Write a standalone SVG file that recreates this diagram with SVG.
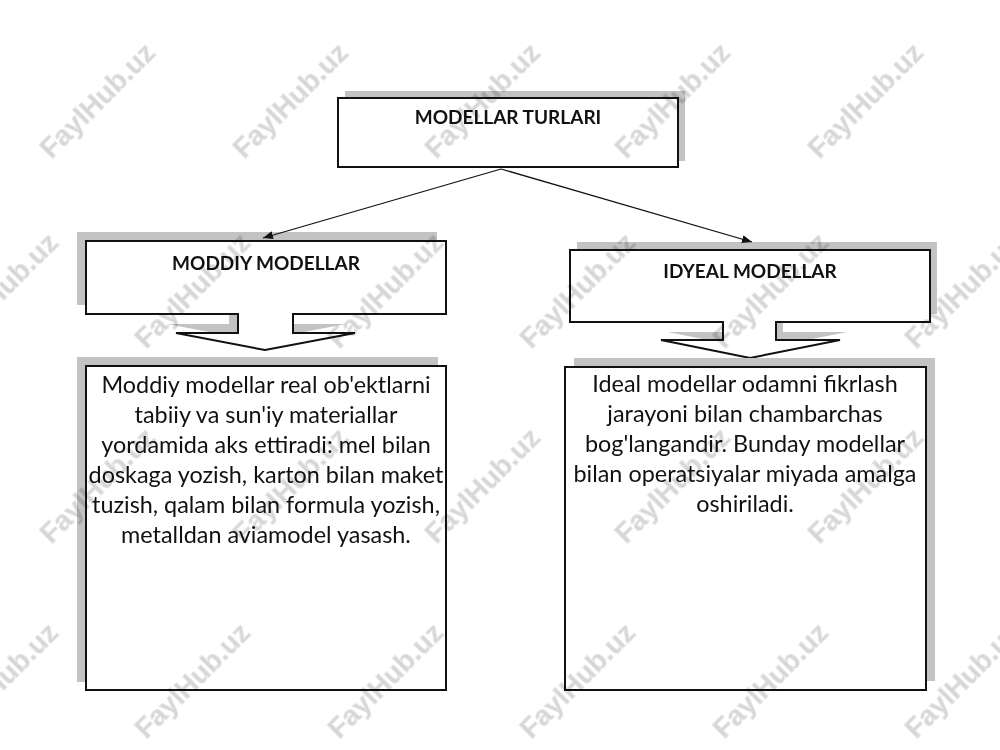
<svg xmlns="http://www.w3.org/2000/svg" width="1000" height="750" viewBox="0 0 1000 750">
<defs>
<style>
.shadow{fill:#c3c3c3;stroke:none}
.box{fill:#fff;stroke:#111;stroke-width:2}
.head{font-family:Lato,"Liberation Sans",sans-serif;font-weight:bold;font-size:19px;fill:#111;text-anchor:middle}
.body{font-family:Lato,"Liberation Sans",sans-serif;font-size:23.4px;fill:#111;text-anchor:middle}
.conn{stroke:#111;stroke-width:1.3;fill:none}
.wm{font-family:"Liberation Sans",Arial,sans-serif;font-weight:bold;font-size:28px;fill:#d6d6d6;stroke:#e8e8e8;stroke-width:1;text-anchor:middle;mix-blend-mode:multiply}
</style>
<marker id="ah" viewBox="0 0 10 8" refX="10" refY="4" markerWidth="10" markerHeight="8" markerUnits="userSpaceOnUse" orient="auto">
<path d="M0,0 L10,4 L0,8 Z" fill="#111"/>
</marker>
</defs>
<rect width="1000" height="750" fill="#fff"/>

<g id="node-top">
<rect class="shadow" x="345" y="91" width="340" height="70"/>
<rect class="box" x="338" y="98" width="340" height="69"/>
<text class="head" x="508" y="124">MODELLAR TURLARI</text>
</g>

<g id="node-moddiy">
<path class="shadow" d="M77,232 H437 V305 H284 V324 H346 L256,341 L167,324 H229 V305 H77 Z"/>
<path class="box" d="M86,241 H446 V314 H293 V333 H355 L265,350 L176,333 H238 V314 H86 Z"/>
<text class="head" x="266" y="270">MODDIY MODELLAR</text>
</g>

<g id="node-ideal">
<path class="shadow" d="M577,242 H937 V314 H783 V332 H847 L757,350 L668,332 H730 V314 H577 Z"/>
<path class="box" d="M570,250 H930 V322 H776 V340 H840 L750,358 L661,340 H723 V322 H570 Z"/>
<text class="head" x="750" y="278">IDYEAL MODELLAR</text>
</g>

<g id="node-moddiy-text">
<rect class="shadow" x="77" y="357" width="361" height="325"/>
<rect class="box" x="86" y="366" width="360" height="324"/>
<text class="body" x="266" y="393">Moddiy modellar real ob'ektlarni</text>
<text class="body" x="266" y="423">tabiiy va sun'iy materiallar</text>
<text class="body" x="266" y="453">yordamida aks ettiradi: mel bilan</text>
<text class="body" x="266" y="483">doskaga yozish, karton bilan maket</text>
<text class="body" x="266" y="513">tuzish, qalam bilan formula yozish,</text>
<text class="body" x="266" y="543">metalldan aviamodel yasash.</text>
</g>

<g id="node-ideal-text">
<rect class="shadow" x="574" y="358" width="361" height="323"/>
<rect class="box" x="565" y="367" width="361" height="323"/>
<text class="body" x="745" y="392">Ideal modellar odamni fikrlash</text>
<text class="body" x="745" y="422">jarayoni bilan chambarchas</text>
<text class="body" x="745" y="452">bog'langandir. Bunday modellar</text>
<text class="body" x="745" y="482">bilan operatsiyalar miyada amalga</text>
<text class="body" x="745" y="512">oshiriladi.</text>
</g>

<g id="connectors">
<line class="conn" x1="501" y1="169" x2="263" y2="238" marker-end="url(#ah)"/>
<line class="conn" x1="501" y1="169" x2="752" y2="242" marker-end="url(#ah)"/>
</g>

<g id="watermarks">
<text class="wm" transform="translate(97,100) rotate(-45)" y="10">FaylHub.uz</text>
<text class="wm" transform="translate(290,100) rotate(-45)" y="10">FaylHub.uz</text>
<text class="wm" transform="translate(482,100) rotate(-45)" y="10">FaylHub.uz</text>
<text class="wm" transform="translate(672,100) rotate(-45)" y="10">FaylHub.uz</text>
<text class="wm" transform="translate(865,100) rotate(-45)" y="10">FaylHub.uz</text>
<text class="wm" transform="translate(0,290) rotate(-45)" y="10">FaylHub.uz</text>
<text class="wm" transform="translate(192,290) rotate(-45)" y="10">FaylHub.uz</text>
<text class="wm" transform="translate(385,290) rotate(-45)" y="10">FaylHub.uz</text>
<text class="wm" transform="translate(577,290) rotate(-45)" y="10">FaylHub.uz</text>
<text class="wm" transform="translate(770,290) rotate(-45)" y="10">FaylHub.uz</text>
<text class="wm" transform="translate(962,290) rotate(-45)" y="10">FaylHub.uz</text>
<text class="wm" transform="translate(97,485) rotate(-45)" y="10">FaylHub.uz</text>
<text class="wm" transform="translate(290,485) rotate(-45)" y="10">FaylHub.uz</text>
<text class="wm" transform="translate(482,485) rotate(-45)" y="10">FaylHub.uz</text>
<text class="wm" transform="translate(672,485) rotate(-45)" y="10">FaylHub.uz</text>
<text class="wm" transform="translate(865,485) rotate(-45)" y="10">FaylHub.uz</text>
<text class="wm" transform="translate(0,680) rotate(-45)" y="10">FaylHub.uz</text>
<text class="wm" transform="translate(192,680) rotate(-45)" y="10">FaylHub.uz</text>
<text class="wm" transform="translate(385,680) rotate(-45)" y="10">FaylHub.uz</text>
<text class="wm" transform="translate(577,680) rotate(-45)" y="10">FaylHub.uz</text>
<text class="wm" transform="translate(770,680) rotate(-45)" y="10">FaylHub.uz</text>
<text class="wm" transform="translate(962,680) rotate(-45)" y="10">FaylHub.uz</text>
</g>
</svg>
